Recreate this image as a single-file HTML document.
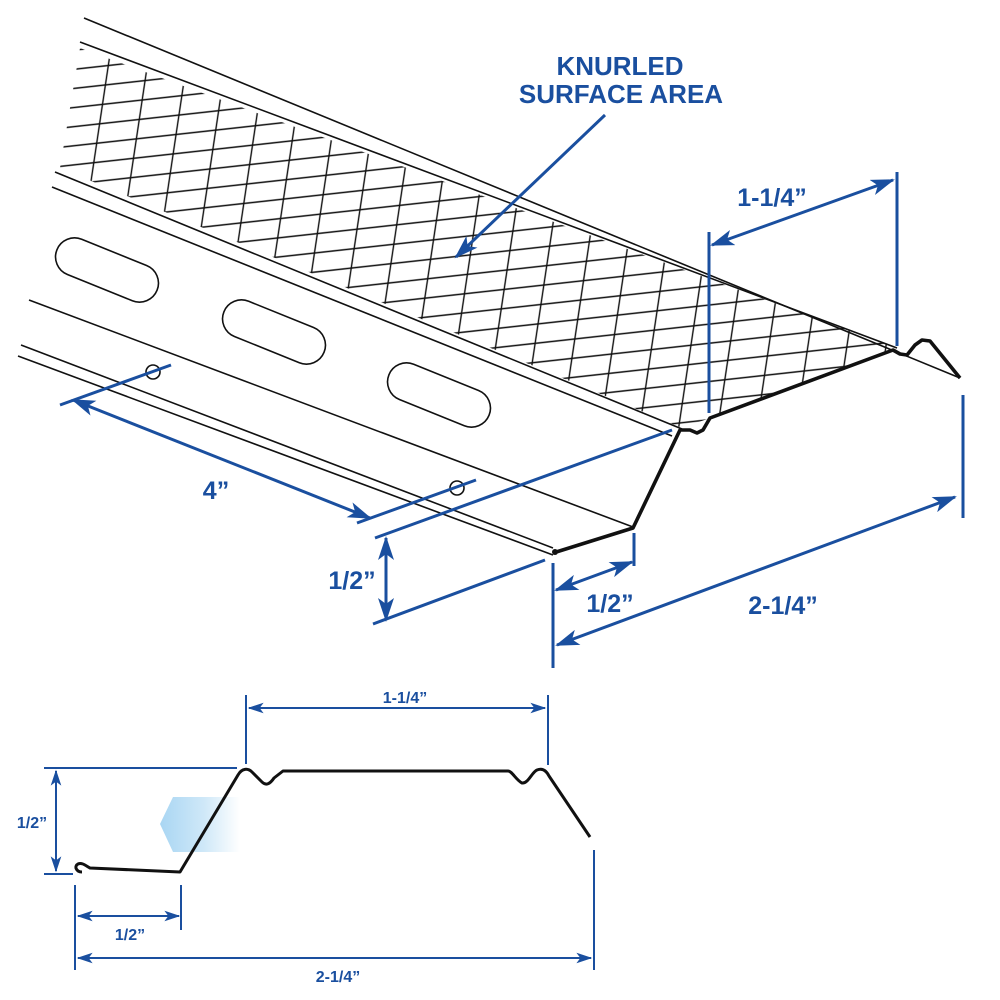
<!DOCTYPE html>
<html><head><meta charset="utf-8"><style>
html,body{margin:0;padding:0;background:#fff;}
svg{display:block;}
text{font-family:"Liberation Sans",Arial,sans-serif;font-weight:bold;fill:#1a4f9f;}
</style></head><body>
<svg width="1000" height="1000" viewBox="0 0 1000 1000" xmlns="http://www.w3.org/2000/svg">
<defs>
<marker id="ah" viewBox="0 0 24 16" refX="22" refY="8" markerWidth="24" markerHeight="16" markerUnits="userSpaceOnUse" orient="auto-start-reverse">
<path d="M0,0 L24,8 L0,16 L6,8 Z" fill="#1a4f9f"/></marker>
<marker id="as" viewBox="0 0 24 16" refX="22" refY="8" markerWidth="16" markerHeight="11" markerUnits="userSpaceOnUse" orient="auto-start-reverse">
<path d="M0,0 L24,8 L0,16 L6,8 Z" fill="#1a4f9f"/></marker>
<pattern id="h1" width="200" height="19" patternUnits="userSpaceOnUse" patternTransform="rotate(-6.3)">
<line x1="0" y1="1" x2="200" y2="1" stroke="#111" stroke-width="1.4"/></pattern>
<pattern id="h2" width="38.6" height="200" patternUnits="userSpaceOnUse" patternTransform="rotate(8.5)">
<line x1="1" y1="0" x2="1" y2="200" stroke="#111" stroke-width="1.4"/></pattern>
<clipPath id="kc"><polygon points="80,48 897,348 893,350 710,418 682,428 60,168"/></clipPath>
<linearGradient id="lg" x1="0" x2="1" y1="0" y2="0">
<stop offset="0" stop-color="#a9d6f3"/><stop offset="0.55" stop-color="#cfe8f8"/><stop offset="1" stop-color="#ffffff"/></linearGradient>
</defs>

<!-- knurl -->
<g clip-path="url(#kc)">
<rect x="0" y="0" width="1000" height="500" fill="url(#h1)"/>
<rect x="0" y="0" width="1000" height="500" fill="url(#h2)"/>
</g>

<!-- body lines -->
<g stroke="#111" stroke-width="1.6" fill="none">
<line x1="84" y1="18" x2="960" y2="378"/>
<line x1="80" y1="42" x2="897" y2="348"/>
<line x1="55" y1="172" x2="682" y2="429"/>
<line x1="52" y1="187" x2="672" y2="436"/>
<line x1="29" y1="300" x2="633" y2="527"/>
<line x1="21" y1="345" x2="553" y2="548"/>
<line x1="18" y1="356" x2="553" y2="555"/>
<g transform="translate(107,270) rotate(22)"><rect x="-54" y="-19" width="108" height="38" rx="19"/></g>
<g transform="translate(274,332) rotate(22)"><rect x="-54" y="-19" width="108" height="38" rx="19"/></g>
<g transform="translate(439,395) rotate(22)"><rect x="-54" y="-19" width="108" height="38" rx="19"/></g>
<circle cx="153" cy="372" r="7"/>
<circle cx="457" cy="488" r="7"/>
</g>
<!-- main bold profile -->
<path d="M553,553 L633,528 L680,430 L690,430 L697,433 L703,430 L710,418 L893,350 L900,354 L907,355 L915,345 L922,340 L930,341 L960,378" fill="none" stroke="#111" stroke-width="3.6" stroke-linejoin="round"/>
<circle cx="555" cy="552" r="3" fill="#111"/>

<!-- blue dims top -->
<g stroke="#1a4f9f" stroke-width="3" fill="none">
<line x1="605" y1="115" x2="456" y2="257" marker-end="url(#ah)"/>
<line x1="897" y1="172" x2="897" y2="346"/>
<line x1="709" y1="232" x2="709" y2="413"/>
<line x1="712" y1="245" x2="893" y2="180" marker-start="url(#ah)" marker-end="url(#ah)"/>
<line x1="60" y1="405" x2="171" y2="365"/>
<line x1="357" y1="523" x2="476" y2="480"/>
<line x1="73" y1="400" x2="370" y2="518" marker-start="url(#ah)" marker-end="url(#ah)"/>
<line x1="375" y1="538" x2="672" y2="430"/>
<line x1="373" y1="624" x2="545" y2="560"/>
<line x1="386" y1="538" x2="386" y2="620" marker-start="url(#ah)" marker-end="url(#ah)"/>
<line x1="553" y1="563" x2="553" y2="668"/>
<line x1="634" y1="533" x2="634" y2="566"/>
<line x1="556" y1="590" x2="632" y2="562" marker-start="url(#ah)" marker-end="url(#ah)"/>
<line x1="557" y1="645" x2="955" y2="497" marker-start="url(#ah)" marker-end="url(#ah)"/>
<line x1="963" y1="395" x2="963" y2="518"/>
</g>
<text x="620" y="75" font-size="26" text-anchor="middle">KNURLED</text>
<text x="621" y="103" font-size="26" text-anchor="middle">SURFACE AREA</text>
<text x="772" y="206" font-size="25" text-anchor="middle">1-1/4”</text>
<text x="216" y="499" font-size="25" text-anchor="middle">4”</text>
<text x="352" y="589" font-size="25" text-anchor="middle">1/2”</text>
<text x="610" y="612" font-size="25" text-anchor="middle">1/2”</text>
<text x="783" y="614" font-size="25" text-anchor="middle">2-1/4”</text>

<!-- bottom section -->
<polygon points="173,797 240,797 240,852 173,852 160,824" fill="url(#lg)"/>
<path d="M82,872 C76,872 74,866 78,864 C82,862 86,866 90,868 L180,872 L238,775 C242,768 248,768 252,772 L262,782 C266,786 270,784 274,778 L283,771 L508,771 C512,771 516,780 522,783 C528,784 532,772 537,770 C542,768 546,770 549,776 L590,837" fill="none" stroke="#111" stroke-width="3" stroke-linejoin="round"/>
<g stroke="#1a4f9f" stroke-width="2" fill="none">
<line x1="246" y1="695" x2="246" y2="764"/>
<line x1="548" y1="695" x2="548" y2="765"/>
<line x1="249" y1="708" x2="545" y2="708" marker-start="url(#as)" marker-end="url(#as)"/>
<line x1="44" y1="768" x2="237" y2="768"/>
<line x1="44" y1="874" x2="73" y2="874"/>
<line x1="56" y1="771" x2="56" y2="871" marker-start="url(#as)" marker-end="url(#as)"/>
<line x1="75" y1="885" x2="75" y2="970"/>
<line x1="181" y1="885" x2="181" y2="930"/>
<line x1="78" y1="916" x2="179" y2="916" marker-start="url(#as)" marker-end="url(#as)"/>
<line x1="594" y1="850" x2="594" y2="970"/>
<line x1="78" y1="958" x2="591" y2="958" marker-start="url(#as)" marker-end="url(#as)"/>
</g>
<text x="405" y="703" font-size="16" text-anchor="middle">1-1/4”</text>
<text x="32" y="828" font-size="16" text-anchor="middle">1/2”</text>
<text x="130" y="940" font-size="16" text-anchor="middle">1/2”</text>
<text x="338" y="982" font-size="16" text-anchor="middle">2-1/4”</text>
</svg>
</body></html>
